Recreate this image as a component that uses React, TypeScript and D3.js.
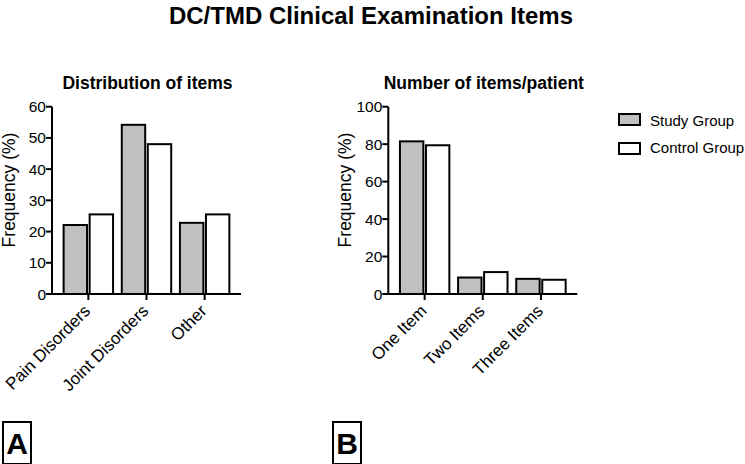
import React from "react";
import * as d3 from "d3";

const seriesNames = ["Study Group", "Control Group"];
const seriesFill = ["#c0c0c0", "#ffffff"];

const catsA = ["Pain Disorders", "Joint Disorders", "Other"];
const studyA = [22.1, 54.2, 22.8];
const controlA = [25.5, 48.0, 25.5];
const ticksA = [0, 10, 20, 30, 40, 50, 60];

const catsB = ["One Item", "Two Items", "Three Items"];
const studyB = [81.5, 8.8, 8.1];
const controlB = [79.4, 11.7, 7.6];
const ticksB = [0, 20, 40, 60, 80, 100];

const FONT = "'Liberation Sans', Arial, Helvetica, sans-serif";

type PanelProps = {
  x0: number;
  title: string;
  cats: string[];
  study: number[];
  control: number[];
  ticks: number[];
  yMax: number;
  letter: string;
  letterX: number;
};

function Panel({ x0, title, cats, study, control, ticks, yMax, letter, letterX }: PanelProps) {
  const top = 106.7;
  const bottom = 294;
  const axisLen = 189;
  const y = d3.scaleLinear().domain([0, yMax]).range([bottom, top]);
  const x = d3
    .scaleBand<string>()
    .domain(cats)
    .range([x0, x0 + axisLen])
    .paddingInner(0.15)
    .paddingOuter(0.2);
  const sub = d3
    .scaleBand<number>()
    .domain([0, 1])
    .range([0, x.bandwidth()])
    .paddingInner(0.1);
  const vals = [study, control];
  return (
    <g>
      <text
        x={x0 + axisLen / 2 + 1}
        y={89}
        textAnchor="middle"
        fontFamily={FONT}
        fontWeight="bold"
        fontSize={17.5}
      >
        {title}
      </text>
      <text
        transform={`translate(${x0 - 37},190) rotate(-90)`}
        textAnchor="middle"
        fontFamily={FONT}
        fontSize={17.5}
      >
        Frequency (%)
      </text>
      {cats.map((c, i) =>
        vals.map((s, k) => (
          <rect
            key={c + k}
            x={(x(c) as number) + (sub(k) as number)}
            y={y(s[i])}
            width={sub.bandwidth()}
            height={bottom - y(s[i])}
            fill={seriesFill[k]}
            stroke="#000"
            strokeWidth={2}
          />
        ))
      )}
      <line x1={x0} x2={x0} y1={top} y2={bottom} stroke="#000" strokeWidth={2} />
      <line x1={x0 - 1} x2={x0 + axisLen} y1={bottom} y2={bottom} stroke="#000" strokeWidth={2} />
      {ticks.map((t) => (
        <g key={t}>
          <line x1={x0 - 6} x2={x0} y1={y(t)} y2={y(t)} stroke="#000" strokeWidth={2} />
          <text
            x={x0 - 6}
            y={y(t)}
            dy="0.36em"
            textAnchor="end"
            fontFamily={FONT}
            fontSize={15.5}
          >
            {t}
          </text>
        </g>
      ))}
      {cats.map((c) => {
        const cx = (x(c) as number) + x.bandwidth() / 2;
        return (
          <g key={c}>
            <line x1={cx} x2={cx} y1={bottom} y2={bottom + 6} stroke="#000" strokeWidth={2} />
            <text
              transform={`translate(${cx + 3},${bottom + 18}) rotate(-45)`}
              textAnchor="end"
              fontFamily={FONT}
              fontSize={17}
            >
              {c}
            </text>
          </g>
        );
      })}
      <rect x={letterX} y={422} width={28} height={42} fill="none" stroke="#000" strokeWidth={2} />
      <text
        x={letterX + 14}
        y={453.5}
        textAnchor="middle"
        fontFamily={FONT}
        fontWeight="bold"
        fontSize={30}
      >
        {letter}
      </text>
    </g>
  );
}

export default function App() {
  return (
    <svg
      width={745}
      height={464}
      style={{ position: "absolute", left: 0, top: 0, background: "#fff" }}
    >
      <rect width={745} height={464} fill="#fff" />
      <text
        x={371}
        y={24}
        textAnchor="middle"
        fontFamily={FONT}
        fontWeight="bold"
        fontSize={24}
      >
        DC/TMD Clinical Examination Items
      </text>
      <Panel
        x0={52}
        title="Distribution of items"
        cats={catsA}
        study={studyA}
        control={controlA}
        ticks={ticksA}
        yMax={60}
        letter="A"
        letterX={3}
      />
      <Panel
        x0={388.3}
        title="Number of items/patient"
        cats={catsB}
        study={studyB}
        control={controlB}
        ticks={ticksB}
        yMax={100}
        letter="B"
        letterX={333}
      />
      {seriesNames.map((n, i) => (
        <g key={n}>
          <rect
            x={619}
            y={114 + i * 29}
            width={21}
            height={11}
            fill={seriesFill[i]}
            stroke="#000"
            strokeWidth={2}
          />
          <text x={650} y={126 + i * 27} fontFamily={FONT} fontSize={15}>
            {n}
          </text>
        </g>
      ))}
    </svg>
  );
}
